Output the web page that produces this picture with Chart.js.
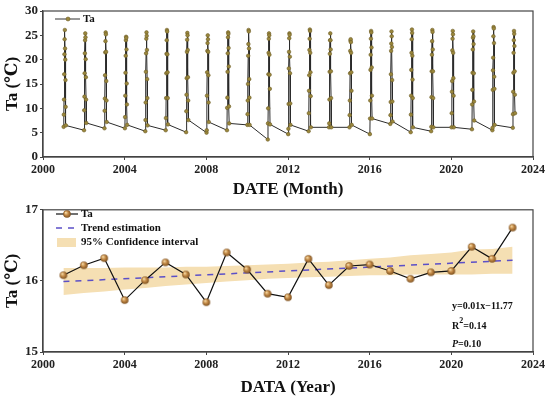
<!DOCTYPE html>
<html>
<head>
<meta charset="utf-8">
<script src="https://cdn.jsdelivr.net/npm/chart.js@4.4.1/dist/chart.umd.min.js"></script>
<style>
  html, body { margin: 0; padding: 0; background: #fff; }
  #monthChart { position: absolute; left: 0; top: 0; }
  #yearChart { position: absolute; left: 0; top: 200px; }
</style>
</head>
<body>
<canvas id="monthChart" width="550" height="200"></canvas>
<canvas id="yearChart" width="550" height="199"></canvas>
<script>
// ---- data ----
var years = [2001, 2002, 2003, 2004, 2005, 2006, 2007, 2008, 2009, 2010, 2011, 2012,
             2013, 2014, 2015, 2016, 2017, 2018, 2019, 2020, 2021, 2022, 2023];

// monthly mean Ta, Jan..Dec
var ta2001 = [6.2, 8.7, 11.8, 17.0, 21.1, 24.2, 26.1, 22.3, 20.0, 15.8, 10.3, 6.5];
var ta2002 = [5.5, 9.6, 12.4, 17.2, 21.3, 24.0, 25.4, 24.6, 20.1, 16.4, 11.8, 7.0];
var ta2003 = [5.9, 9.5, 12.0, 16.8, 21.5, 23.8, 25.6, 25.2, 21.6, 15.6, 11.6, 7.2];
var ta2004 = [5.9, 8.2, 12.6, 17.3, 20.8, 24.0, 24.7, 24.5, 22.1, 15.1, 10.8, 6.6];
var ta2005 = [5.3, 7.6, 11.2, 17.5, 21.3, 24.3, 25.6, 24.9, 22.0, 16.0, 12.1, 6.5];
var ta2006 = [5.5, 8.0, 12.1, 17.2, 21.2, 24.0, 26.1, 25.8, 21.1, 17.4, 12.1, 6.7];
var ta2007 = [5.1, 9.4, 12.8, 16.2, 21.6, 24.1, 25.5, 25.0, 22.0, 16.4, 11.6, 7.6];
var ta2008 = [5.0, 5.5, 12.6, 17.4, 21.8, 23.4, 25.0, 24.2, 21.6, 16.8, 11.2, 7.2];
var ta2009 = [5.5, 10.1, 12.2, 17.5, 21.3, 24.6, 25.6, 25.3, 22.4, 18.6, 10.4, 6.9];
var ta2010 = [6.6, 8.8, 11.6, 15.0, 20.8, 23.2, 26.1, 25.8, 22.3, 16.0, 12.2, 6.6];
var ta2011 = [3.6, 6.9, 10.0, 17.0, 21.4, 24.3, 25.4, 25.0, 21.0, 16.9, 14.0, 6.7];
var ta2012 = [4.7, 5.8, 10.9, 18.2, 21.6, 24.4, 25.4, 25.1, 20.6, 17.2, 11.0, 6.6];
var ta2013 = [5.3, 9.0, 13.6, 16.8, 22.0, 24.3, 26.2, 25.9, 21.4, 17.4, 12.5, 6.1];
var ta2014 = [6.1, 6.9, 11.8, 17.5, 21.2, 24.0, 25.4, 24.0, 22.1, 17.6, 12.1, 6.1];
var ta2015 = [6.1, 8.6, 11.6, 17.2, 21.8, 23.9, 24.2, 23.6, 21.4, 17.4, 13.6, 6.6];
var ta2016 = [4.7, 7.9, 11.6, 17.9, 21.0, 24.3, 25.9, 25.6, 22.5, 18.4, 12.6, 7.9];
var ta2017 = [6.8, 8.6, 11.3, 17.0, 21.8, 23.3, 25.8, 24.8, 22.6, 15.8, 11.4, 7.3];
var ta2018 = [5.1, 8.7, 12.6, 17.9, 21.4, 24.2, 26.2, 25.5, 20.8, 15.9, 12.1, 6.1];
var ta2019 = [5.3, 6.2, 12.3, 17.6, 21.0, 23.8, 26.1, 25.7, 22.1, 17.6, 12.1, 6.1];
var ta2020 = [6.1, 9.0, 13.4, 15.6, 21.9, 24.3, 25.9, 25.2, 21.4, 16.2, 12.6, 6.1];
var ta2021 = [5.7, 10.8, 13.8, 17.3, 22.1, 24.5, 25.8, 24.8, 23.2, 17.2, 11.4, 7.5];
var ta2022 = [5.5, 6.0, 13.8, 17.8, 20.4, 24.8, 26.7, 26.4, 23.4, 16.5, 14.0, 6.6];
var ta2023 = [6.0, 8.8, 13.4, 17.3, 21.4, 24.0, 25.9, 25.3, 22.8, 17.6, 12.8, 9.0];

var monthlyRows = [ta2001, ta2002, ta2003, ta2004, ta2005, ta2006, ta2007, ta2008,
                   ta2009, ta2010, ta2011, ta2012, ta2013, ta2014, ta2015, ta2016,
                   ta2017, ta2018, ta2019, ta2020, ta2021, ta2022, ta2023];

// annual mean Ta
var annualTa = [16.08, 16.22, 16.32, 15.73, 16.01, 16.26, 16.09, 15.70, 16.40, 16.16, 15.82, 15.77,
                16.31, 15.94, 16.21, 16.23, 16.14, 16.03, 16.12, 16.14, 16.48, 16.31, 16.75];

// trend line ends and 95% band
var trendYears = [2001, 2023];
var trendTa = [15.99, 16.29];
var ciUpper = [16.18, 16.18, 16.18, 16.19, 16.19, 16.19, 16.20, 16.20, 16.21, 16.22, 16.23, 16.24,
               16.26, 16.27, 16.29, 16.31, 16.33, 16.36, 16.38, 16.40, 16.44, 16.45, 16.48];
var ciLower = [15.80, 15.83, 15.85, 15.88, 15.90, 15.93, 15.95, 15.97, 15.99, 16.01, 16.03, 16.04,
               16.05, 16.06, 16.07, 16.08, 16.08, 16.09, 16.09, 16.09, 16.09, 16.10, 16.10];

// tick labels
var xTicks = [2000, 2004, 2008, 2012, 2016, 2020, 2024];
var yTicksMonth = [0, 5, 10, 15, 20, 25, 30];
var yTicksYear = [15, 16, 17];

// ---- helpers ----
var SERIF = "'Liberation Serif', 'DejaVu Serif', serif";
var AXIS = '#444';

// monthly points sit at year.MM, like the DATE column
var monthPoints = [];
years.forEach(function (y, i) {
  monthlyRows[i].forEach(function (v, m) {
    monthPoints.push({ x: y + (m + 1) / 100, y: v });
  });
});

function pairs(xs, ys) {
  return xs.map(function (x, i) { return { x: x, y: ys[i] }; });
}

function makeSphere(r) {
  var c = document.createElement('canvas');
  var s = Math.ceil(r * 2 + 2);
  c.width = s; c.height = s;
  var g = c.getContext('2d');
  var grad = g.createRadialGradient(s / 2 - r * 0.35, s / 2 - r * 0.4, r * 0.1, s / 2, s / 2, r);
  grad.addColorStop(0, '#f6dca8');
  grad.addColorStop(0.45, '#c68c48');
  grad.addColorStop(1, '#7c4f1e');
  g.fillStyle = grad;
  g.beginPath();
  g.arc(s / 2, s / 2, r, 0, Math.PI * 2);
  g.fill();
  return c;
}
var sphere = makeSphere(3.8);

function tickSetter(list) {
  return function (scale) {
    scale.ticks = list.map(function (v) { return { value: v }; });
  };
}

function xScale(title, h) {
  return {
    type: 'linear', min: 2000, max: 2024,
    afterBuildTicks: tickSetter(xTicks),
    afterFit: function (s) { s.height = h; },
    ticks: { color: '#222', padding: 3, maxRotation: 0,
             font: { family: SERIF, size: 12, weight: 'bold' },
             callback: function (v) { return String(v); } },
    grid: { drawOnChartArea: false, tickLength: 3, color: AXIS },
    border: { color: AXIS, width: 1.2 },
    title: { display: true, text: title, color: '#111', padding: { top: 0, bottom: 0 },
             font: { family: SERIF, size: 17, weight: 'bold' } }
  };
}

function yScale(min, max, list) {
  return {
    min: min, max: max,
    afterBuildTicks: tickSetter(list),
    afterFit: function (s) { s.width = 43; },
    ticks: { color: '#222', padding: 2, font: { family: SERIF, size: 13, weight: 'bold' } },
    grid: { drawOnChartArea: false, tickLength: 3, color: AXIS },
    border: { color: AXIS, width: 1.2 },
    title: { display: true, text: 'Ta (℃)', color: '#111', padding: { top: 2, bottom: 0 },
             font: { family: SERIF, size: 17, weight: 'bold' } }
  };
}

var framePlugin = {
  id: 'frame',
  afterDraw: function (chart) {
    var a = chart.chartArea, ctx = chart.ctx;
    ctx.save();
    ctx.strokeStyle = AXIS;
    ctx.lineWidth = 1.2;
    ctx.strokeRect(a.left, a.top, a.right - a.left, a.bottom - a.top);
    ctx.restore();
  }
};

function legendFont(size) { return 'bold ' + size + 'px ' + SERIF; }

var monthLegend = {
  id: 'monthLegend',
  afterDraw: function (chart) {
    var ctx = chart.ctx, x0 = chart.chartArea.left + 12, y = 19;
    ctx.save();
    ctx.strokeStyle = '#333'; ctx.lineWidth = 1;
    ctx.beginPath(); ctx.moveTo(x0, y); ctx.lineTo(x0 + 25, y); ctx.stroke();
    ctx.fillStyle = '#9a873c'; ctx.strokeStyle = '#6e5e28'; ctx.lineWidth = 0.6;
    ctx.beginPath(); ctx.arc(x0 + 13, y, 2, 0, Math.PI * 2); ctx.fill(); ctx.stroke();
    ctx.fillStyle = '#111'; ctx.font = legendFont(11); ctx.textBaseline = 'middle';
    ctx.fillText('Ta', x0 + 28, y);
    ctx.restore();
  }
};

var yearLegend = {
  id: 'yearLegend',
  afterDraw: function (chart) {
    var ctx = chart.ctx, a = chart.chartArea, x0 = a.left + 13;
    ctx.save();
    ctx.font = legendFont(11); ctx.textBaseline = 'middle'; ctx.fillStyle = '#111';
    // Ta
    ctx.strokeStyle = '#111'; ctx.lineWidth = 1.2;
    ctx.beginPath(); ctx.moveTo(x0, 14); ctx.lineTo(x0 + 22, 14); ctx.stroke();
    ctx.drawImage(sphere, x0 + 11 - sphere.width / 2, 14 - sphere.height / 2);
    ctx.fillText('Ta', x0 + 25, 14);
    // trend
    ctx.strokeStyle = '#5b4fc8'; ctx.lineWidth = 1.5; ctx.setLineDash([6, 6]);
    ctx.beginPath(); ctx.moveTo(x0, 28); ctx.lineTo(x0 + 22, 28); ctx.stroke();
    ctx.setLineDash([]);
    ctx.fillText('Trend estimation', x0 + 25, 28);
    // band
    ctx.fillStyle = '#f5dfb3';
    ctx.fillRect(x0 + 1, 38, 19, 9);
    ctx.fillStyle = '#111';
    ctx.fillText('95% Confidence interval', x0 + 25, 42.5);

    // regression notes
    var tx = 452;
    ctx.font = legendFont(10);
    ctx.fillText('y=0.01x\u221211.77', tx, 106);
    ctx.fillText('R', tx, 126);
    var rw = ctx.measureText('R').width;
    ctx.font = legendFont(8);
    ctx.fillText('2', tx + rw, 121);
    var sw = ctx.measureText('2').width;
    ctx.font = legendFont(10);
    ctx.fillText('=0.14', tx + rw + sw, 126);
    ctx.font = 'italic bold 10px ' + SERIF;
    ctx.fillText('P', tx, 144);
    var pw = ctx.measureText('P').width;
    ctx.font = legendFont(10);
    ctx.fillText('=0.10', tx + pw, 144);
    ctx.restore();
  }
};

// ---- monthly chart ----
var config1 = {
  type: 'line',
  data: {
    datasets: [{
      label: 'Ta',
      data: monthPoints,
      borderColor: '#2b2b2b',
      borderWidth: 1,
      pointRadius: 1.8,
      pointBackgroundColor: '#9a873c',
      pointBorderColor: '#6e5e28',
      pointBorderWidth: 0.6,
      tension: 0
    }]
  },
  options: {
    responsive: false,
    animation: false,
    layout: { padding: { left: 0, right: 17, top: 11, bottom: 0 } },
    plugins: { legend: { display: false }, tooltip: { enabled: false } },
    scales: { x: xScale('DATE (Month)', 43), y: yScale(0, 30, yTicksMonth) }
  },
  plugins: [framePlugin, monthLegend]
};

// ---- annual chart ----
var config2 = {
  type: 'line',
  data: {
    datasets: [
      {
        label: 'Ta',
        data: pairs(years, annualTa),
        borderColor: '#111',
        borderWidth: 1.2,
        pointStyle: sphere,
        pointRadius: 4,
        order: 1
      },
      {
        label: 'Trend estimation',
        data: pairs(trendYears, trendTa),
        borderColor: '#5b4fc8',
        borderWidth: 1.5,
        borderDash: [6, 6],
        pointRadius: 0,
        order: 2
      },
      {
        label: '95% Confidence interval',
        data: pairs(years, ciUpper),
        borderWidth: 0,
        borderColor: 'rgba(0,0,0,0)',
        backgroundColor: '#f5dfb3',
        fill: '+1',
        pointRadius: 0,
        order: 3
      },
      {
        label: 'lower',
        data: pairs(years, ciLower),
        borderWidth: 0,
        borderColor: 'rgba(0,0,0,0)',
        fill: false,
        pointRadius: 0,
        order: 3
      }
    ]
  },
  options: {
    responsive: false,
    animation: false,
    layout: { padding: { left: 0, right: 17, top: 5, bottom: 1 } },
    plugins: { legend: { display: false }, tooltip: { enabled: false } },
    scales: { x: xScale('DATA (Year)', 46), y: yScale(15, 17, yTicksYear) }
  },
  plugins: [framePlugin, yearLegend]
};

new Chart(document.getElementById('monthChart'), config1);
new Chart(document.getElementById('yearChart'), config2);
</script>
</body>
</html>
